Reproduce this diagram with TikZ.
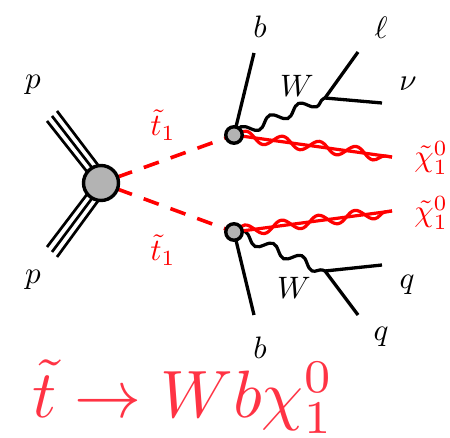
\documentclass[tikz,border=0pt]{standalone}
\usetikzlibrary{decorations.pathmorphing,backgrounds}
\definecolor{big}{HTML}{FF3344}
\definecolor{blob}{HTML}{B3B3B3}
\begin{document}
\begin{tikzpicture}[x=1pt,y=-1pt,
  blobnode/.style={circle,draw=black,fill=blob,line width=3.4pt,inner sep=0pt},
  fermion/.style={draw=black,line width=3.3pt},
  triple/.style={draw=black,line width=2.7pt},
  stop/.style={draw=red,line width=3.6pt,dash pattern=on 16pt off 12.5pt,dash phase=11.5pt},
  wboson/.style={draw=black,line width=3.2pt,decorate,decoration={snake,segment length=31pt,amplitude=5pt}},
  wino/.style={draw=red,line width=3.2pt,decorate,decoration={snake,segment length=37pt,amplitude=5.5pt}},
  winoline/.style={draw=red,line width=3.2pt},
  lab/.style={inner sep=0pt,scale=3.1},
  rlab/.style={lab,text=red},
]
\useasboundingbox (0,0) rectangle (450,438);
\node[blobnode,minimum size=35pt] (main) at (101,183) {};
\node[blobnode,minimum size=16.5pt] (up) at (234,135) {};
\node[blobnode,minimum size=16.5pt] (dn) at (234,232) {};
\coordinate (pa1) at (47,121); \coordinate (pa2) at (52,116); \coordinate (pa3) at (57,111);
\coordinate (pb1) at (47,247); \coordinate (pb2) at (52,252); \coordinate (pb3) at (57,257);
\coordinate (ma1) at (88,173); \coordinate (ma2) at (93,169); \coordinate (ma3) at (98,165);
\coordinate (mb1) at (88,193); \coordinate (mb2) at (93,197); \coordinate (mb3) at (98,201);
\coordinate (bu) at (254,53); \coordinate (bd) at (254,315);
\coordinate (wu) at (325,98); \coordinate (wd) at (325,271);
\coordinate (lep) at (358,52); \coordinate (nu) at (382,103);
\coordinate (q1) at (382,265); \coordinate (q2) at (358,315);
\coordinate (xu) at (392,157); \coordinate (xd) at (392,211);
\begin{pgfonlayer}{background}
  \draw[triple] (pa1) -- (ma1); \draw[triple] (pa2) -- (ma2); \draw[triple] (pa3) -- (ma3);
  \draw[triple] (pb1) -- (mb1); \draw[triple] (pb2) -- (mb2); \draw[triple] (pb3) -- (mb3);
  \draw[stop] (main.center) -- (up.center);
  \draw[stop] (main.center) -- (dn.center);
  \draw[fermion] (up.center) -- (bu);
  \draw[fermion] (dn.center) -- (bd);
  \draw[wboson] (up.center) -- (wu);
  \draw[wboson] (dn.center) -- (wd);
  \draw[fermion] (wu) -- (lep);
  \draw[fermion] (wu) -- (nu);
  \draw[fermion] (wd) -- (q1);
  \draw[fermion] (wd) -- (q2);
  \draw[winoline] (up.center) -- (xu);
  \draw[winoline] (dn.center) -- (xd);
  \draw[wino] (up.center) -- (xu);
  \draw[wino] (dn.center) -- (xd);
\end{pgfonlayer}
\node[lab] (p1) at (33,85) {$p$};
\node[lab] (p2) at (33,280) {$p$};
\node[rlab] (t1) at (163,125) {$\tilde t_1$};
\node[rlab] (t2) at (163,250) {$\tilde t_1$};
\node[lab] (lb1) at (260,27) {$b$};
\node[lab] (lb2) at (260,348) {$b$};
\node[lab] (ll) at (381,28) {$\ell$};
\node[lab] (lnu) at (408,84) {$\nu$};
\node[lab] (lw1) at (297,86) {$W$};
\node[lab] (lw2) at (294,288) {$W$};
\node[lab] (lq1) at (407,285) {$q$};
\node[lab] (lq2) at (381,337) {$q$};
\node[rlab] (x1) at (431,158) {$\tilde\chi^0_1$};
\node[rlab] (x2) at (431,213) {$\tilde\chi^0_1$};
\node[inner sep=0pt,text=big,scale=6.7] (title) at (183,397) {$\tilde t\rightarrow Wb\chi^0_1$};
\end{tikzpicture}
\end{document}
